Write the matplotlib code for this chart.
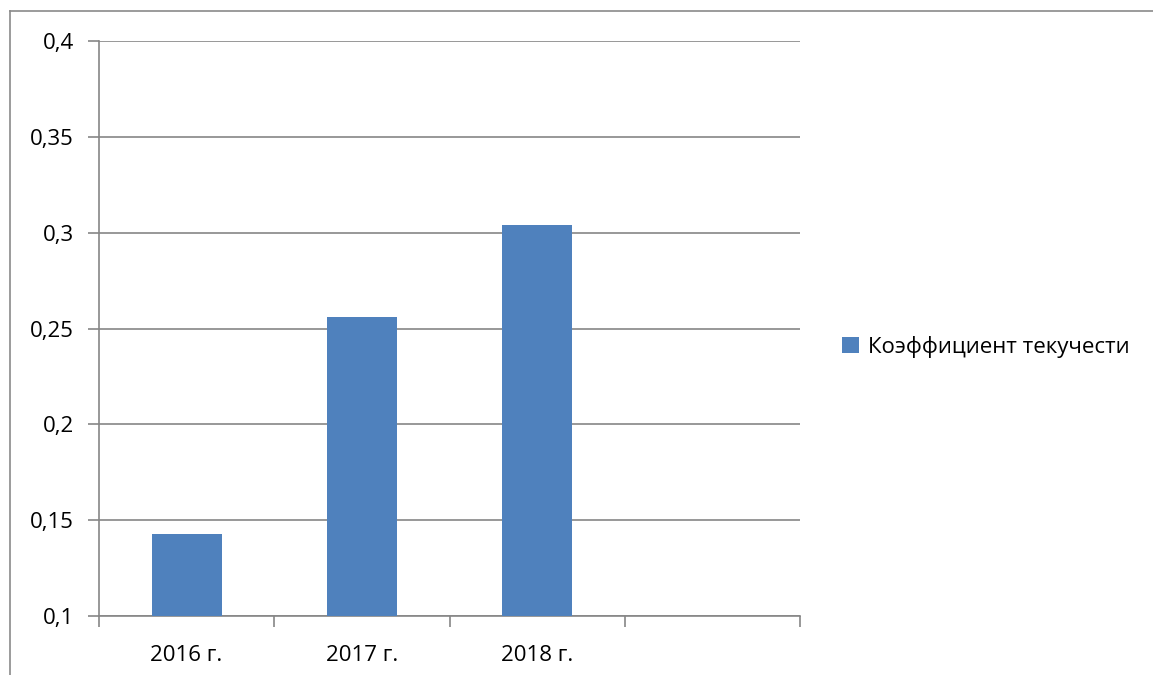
import matplotlib.pyplot as plt
from matplotlib.lines import Line2D
from matplotlib.ticker import FixedLocator, FuncFormatter

categories = ['2016 г.', '2017 г.', '2018 г.', '']
values = [0.143, 0.256, 0.304]
series_name = 'Коэффициент текучести'
y_ticks = [0.1, 0.15, 0.2, 0.25, 0.3, 0.35, 0.4]

W, H = 1153, 675
font = ['Open Sans', 'DejaVu Sans']
plt.rcParams['font.family'] = font
fs = 16

fig = plt.figure(figsize=(W / 100, H / 100), dpi=100)
ax = fig.add_axes([99 / W, (H - 616) / H, (800 - 99) / W, (616 - 41) / H])

bar_color = '#4F81BD'
grid_color = '#868686'

x = list(range(len(values)))
ax.bar(x, values, width=0.4, color=bar_color, zorder=3, label=series_name)

ax.set_xlim(-0.5, len(categories) - 0.5)
ax.set_ylim(y_ticks[0], y_ticks[-1])

ax.set_yticks(y_ticks)
ax.yaxis.set_major_formatter(FuncFormatter(lambda v, p: ('%g' % v).replace('.', ',')))
ax.yaxis.grid(True, color=grid_color, linewidth=1.2, zorder=0)

# границы категорий - основные деления, подписи - на дополнительных
ax.xaxis.set_major_locator(FixedLocator([i - 0.5 for i in range(len(categories) + 1)]))
ax.xaxis.set_major_formatter(FuncFormatter(lambda v, p: ''))
ax.xaxis.set_minor_locator(FixedLocator(list(range(len(categories)))))
ax.set_xticklabels(categories, minor=True)

ax.tick_params(axis='x', which='major', length=8, width=1.2, color=grid_color, direction='out')
ax.tick_params(axis='x', which='minor', length=0, pad=21, labelsize=fs)
ax.tick_params(axis='y', length=8, width=1.2, color=grid_color, labelsize=fs, pad=10)

for s in ['top', 'right']:
    ax.spines[s].set_visible(False)
for s in ['left', 'bottom']:
    ax.spines[s].set_color(grid_color)
    ax.spines[s].set_linewidth(1.2)

leg = fig.legend(loc='center left', bbox_to_anchor=(822 / W, (H - 347) / H),
                 frameon=False, fontsize=fs, handlelength=0.75, handleheight=0.75,
                 handletextpad=0.4)

# внешняя рамка диаграммы (видны только левая и верхняя стороны)
fig.add_artist(Line2D([10 / W, 10 / W], [0, (H - 11) / H], color='#8a8a8a', lw=1.2))
fig.add_artist(Line2D([10 / W, 1], [(H - 11) / H, (H - 11) / H], color='#8a8a8a', lw=1.2))

fig.savefig('out.png', dpi=100, facecolor='white')
